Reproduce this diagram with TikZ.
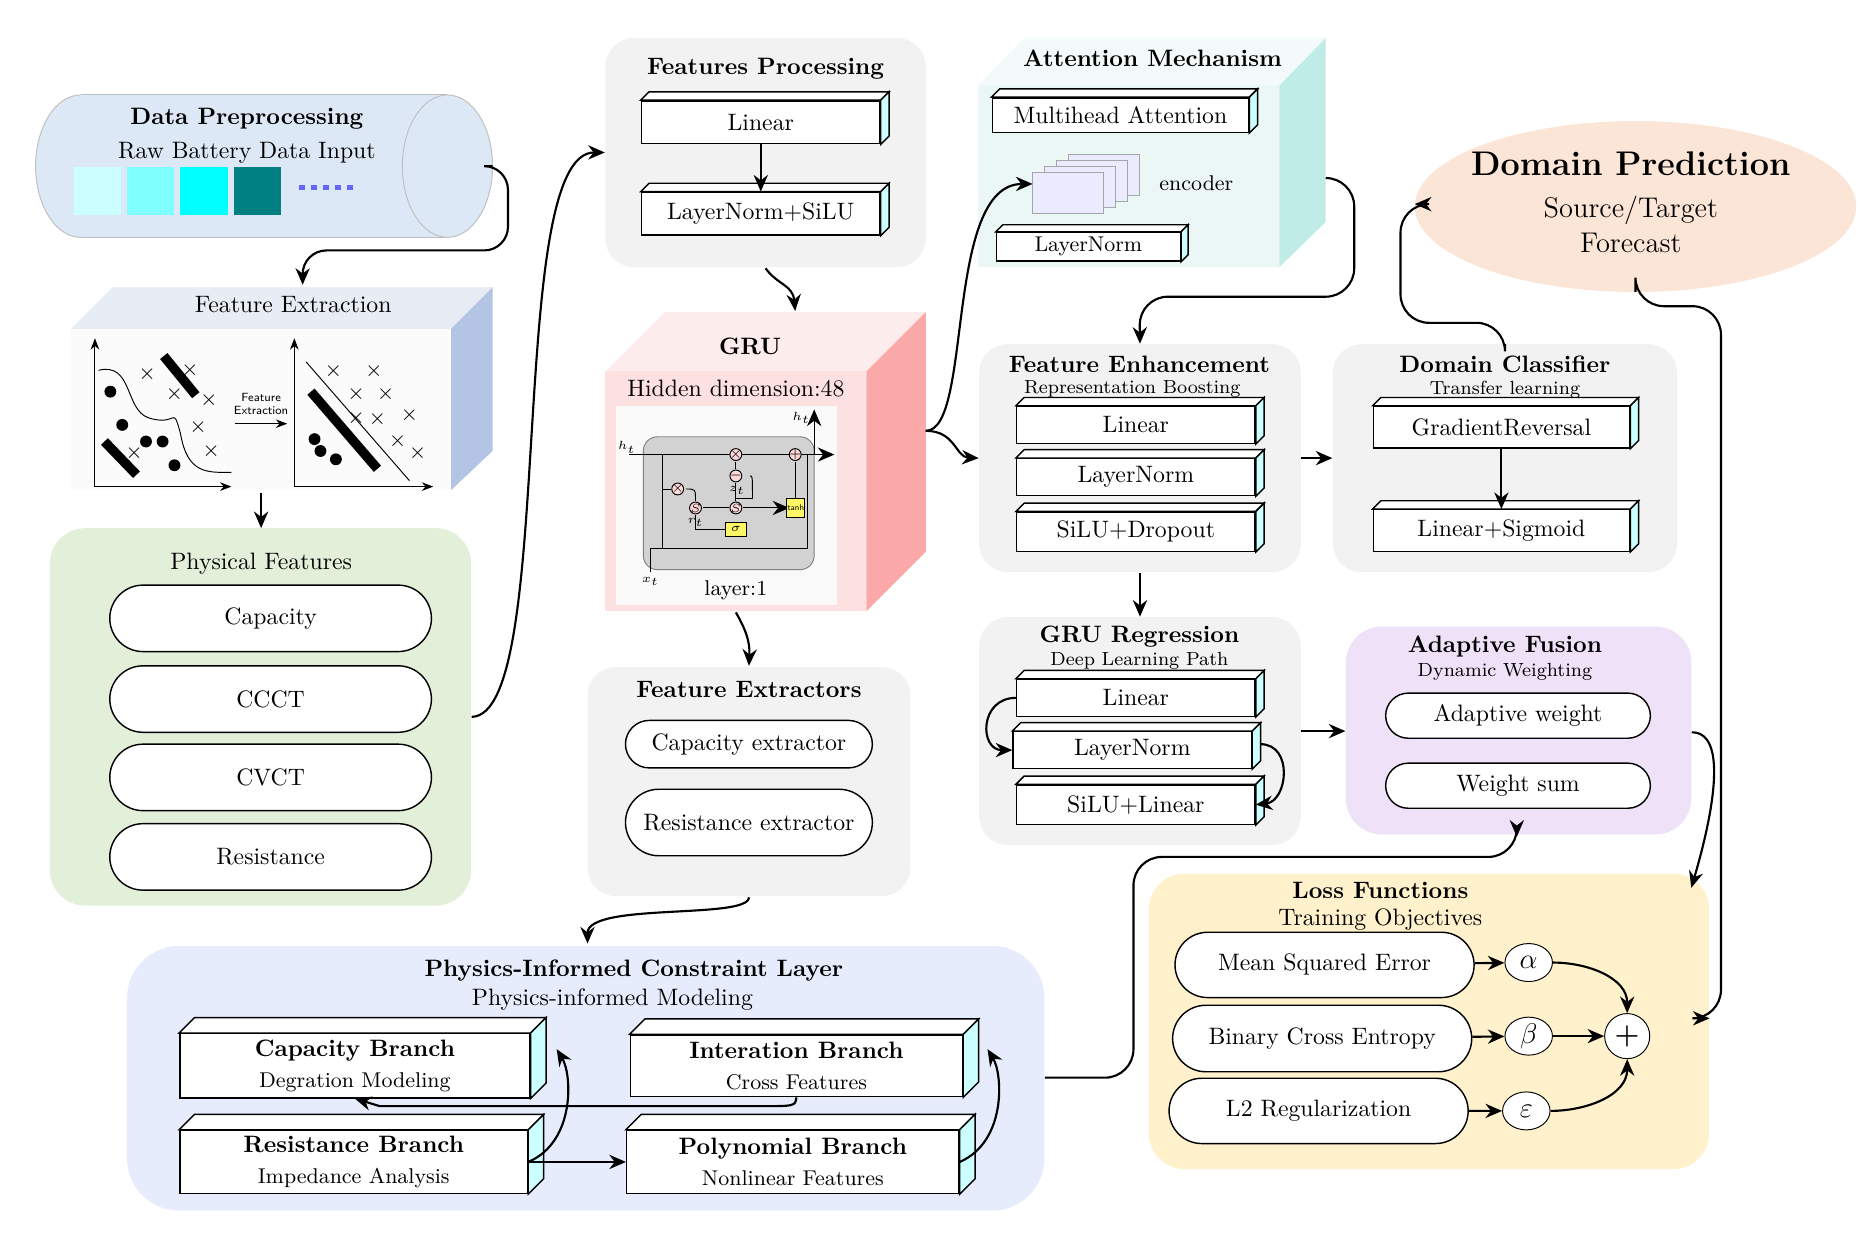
\documentclass[tikz,border=0pt]{standalone}
\usetikzlibrary{shapes.geometric,shapes.misc,fit,arrows.meta,calc}
\definecolor{cylb}{HTML}{DCE8F5}
\definecolor{sidecyan}{HTML}{CCFFFF}
\definecolor{bgray}{HTML}{F2F2F2}
\definecolor{pgreen}{HTML}{E2EFD9}
\definecolor{attn}{HTML}{EAF7F5}
\definecolor{attnside}{HTML}{C0ECE8}
\definecolor{dpred}{HTML}{FBE5D6}
\definecolor{afuse}{HTML}{EFE1F7}
\definecolor{loss}{HTML}{FFF1CC}
\definecolor{phys}{HTML}{E6ECFC}
\definecolor{grufront}{HTML}{FDE0E0}
\definecolor{grutop}{HTML}{FDECEC}
\definecolor{gruside}{HTML}{FBA8A8}
\definecolor{fetop}{HTML}{E8ECF5}
\definecolor{feside}{HTML}{B4C4E4}
\definecolor{sqa}{HTML}{CCFFFF}
\definecolor{sqb}{HTML}{80FFFF}
\definecolor{sqc}{HTML}{00FFFF}
\definecolor{sqd}{HTML}{008080}
\newcommand\tdbox[7]{%
 \node[tdf, minimum width=#4*0.5pt, minimum height=#5*0.5pt] (#1) at (#2,#3) {#7};
 \filldraw[fill=white,draw=black,line width=0.6pt] (#1.north west) -- ++(#6,-#6) -- ($(#1.north east)+(#6,-#6)$) -- (#1.north east) -- cycle;
 \filldraw[fill=sidecyan,draw=black,line width=0.6pt] (#1.north east) -- ++(#6,-#6) -- ($(#1.south east)+(#6,-#6)$) -- (#1.south east) -- cycle;}
\newcommand\cont[6]{\node[fit={(#2,#3)(#4,#5)}, inner sep=0pt, #6] (#1) {};}
\begin{document}
\begin{tikzpicture}[x=0.5pt,y=-0.5pt,
  >={Stealth[length=7pt,width=6pt]},
  conn/.style={->,line width=0.9pt},
  tdf/.style={draw,fill=white,inner sep=0pt,line width=0.6pt,align=center},
  gbox/.style={fill=bgray,rounded corners=12pt},
  pill/.style={rounded rectangle,draw,fill=white,inner sep=0pt,line width=0.6pt},
  ttl/.style={font=\bfseries},
  sub/.style={font=\footnotesize},
  tiny/.style={font=\fontsize{4}{5}\selectfont,inner sep=0pt}]
\useasboundingbox (0,0) rectangle (1568,1047);

% ---------- Data preprocessing cylinder
\fill[cylb] (68,140) ellipse [x radius=38,y radius=60];
\fill[cylb] (68,80) rectangle (377,200);
\draw[gray!50] (68,80) -- (377,80) (68,200) -- (377,200);
\draw[gray!50] (68,80) arc[start angle=-90,end angle=-270,x radius=38,y radius=60];
\filldraw[fill=cylb,draw=gray!50] (377,140) ellipse [x radius=38,y radius=60];
\coordinate (cylE) at (415,140);
\node[ttl] at (208,100) {Data Preprocessing};
\node at (208,129) {Raw Battery Data Input};
\fill[sqa] (62,141) rectangle (102,181);
\fill[sqb] (107,141) rectangle (147,181);
\fill[sqc] (152,141) rectangle (192,181);
\fill[sqd] (197,141) rectangle (237,181);
\draw[blue!60,line width=2pt,dash pattern=on 2.5pt off 2.5pt] (252,158) -- (298,158);

% ---------- Feature extraction
\fill[fetop] (60,277) -- (95,242) -- (415,242) -- (380,277) -- cycle;
\fill[feside] (380,277) -- (415,242) -- (415,380) -- (380,413) -- cycle;
\fill[white!97!gray] (60,277) rectangle (380,413);
\cont{fext}{60}{242}{415}{413}{}
\node at (247,257) {Feature Extraction};
\draw[->,>=Stealth] (80,410) -- (80,285);
\draw[->,>=Stealth] (80,410) -- (195,410);
\draw (83,312) .. controls (112,305) and (105,345) .. (125,352) .. controls (150,360) and (145,340) .. (152,365) .. controls (158,400) and (175,398) .. (195,398);
\draw[line width=4pt] (138,300) -- (165,333);
\draw[line width=4pt] (88,372) -- (115,400);
\foreach \p in {(124,315),(160,312),(147,332),(176,337),(167,360),(178,380),(113,382)} \node[font=\small,inner sep=0] at \p {$\times$};
\foreach \p in {(93,330),(103,358),(123,372),(137,372),(147,392)} \fill \p circle (5);
\draw[->,>=Stealth] (198,357) -- (242,357);
\node[inner sep=0,align=center,font=\sffamily\fontsize{5}{5.5}\selectfont] at (220,340) {Feature\\Extraction};
\draw[->,>=Stealth] (248,410) -- (248,285);
\draw[->,>=Stealth] (248,410) -- (365,410);
\draw (258,305) -- (345,405);
\draw[line width=4pt] (262,330) -- (318,395);
\foreach \p in {(281,313),(315,313),(300,332),(325,332),(318,353),(345,350),(335,372),(352,382),(300,352)} \node[font=\small,inner sep=0] at \p {$\times$};
\foreach \p in {(265,370),(283,387),(270,380)} \fill \p circle (5);

% ---------- Physical features
\cont{pf}{42}{445}{397}{763}{fill=pgreen,rounded corners=15pt}
\node at (220,475) {Physical Features};
\foreach \n/\y/\t in {cap/521/Capacity,ccct/589/CCCT,cvct/655/CVCT,res/722/Resistance}
  \node[pill,minimum width=271*0.5pt,minimum height=56*0.5pt] (\n) at (228,\y) {\t};

% ---------- Features processing
\cont{fp}{510}{32}{780}{225}{gbox}
\node[ttl] at (645,58) {Features Processing};
\tdbox{lin1}{641}{103}{201}{36}{7}{Linear}
\tdbox{lns1}{641}{180}{201}{36}{7}{LayerNorm+SiLU}
\draw[conn] (lin1) -- (lns1);

% ---------- GRU
\fill[grutop] (510,313) -- (560,263) -- (780,263) -- (730,313) -- cycle;
\fill[gruside] (730,313) -- (780,263) -- (780,465) -- (730,515) -- cycle;
\fill[grufront] (510,313) rectangle (730,515);
\cont{gru}{510}{263}{780}{515}{}
\node[ttl] at (632,292) {GRU};
\node at (620,327) {Hidden dimension:48};
\fill[white!96!gray] (519,342) rectangle (705,510);
\filldraw[fill=gray!35,draw=gray,rounded corners=6pt] (542,368) rectangle (686,480);
\draw[->] (530,383) -- (703,383);
\draw[->] (686,383) -- (686,345);
\node[font=\tiny] at (675,352) {$h_t$};
\node[font=\tiny] at (528,377) {$h_t$};
\node[font=\tiny] at (548,490) {$x_t$};
\draw (548,482) -- (548,462) -- (680,462) -- (680,383);
\draw (558,383) -- (558,462);
\draw (558,412) -- (565,412);
\draw (578,412) .. controls (586,412) .. (586,422);
\draw (586,434) -- (586,446) -- (612,446);
\draw (592,428) -- (614,428);
\draw (620,389) -- (620,395) (620,407) -- (620,422);
\draw[->] (626,428) -- (665,428);
\draw (670,422) -- (670,389);
\draw (632,401) .. controls (634,401) .. (634,420) -- (620,420);
\foreach \p/\s in {(620,383)/\times,(670,383)/+,(571,412)/\times,(620,401)/-,(586,428)/S,(620,428)/S}
  \filldraw[fill=red!15,draw=black,line width=0.4pt] \p circle (5) node[font=\fontsize{5}{5}\selectfont] {$\s$};
\node[font=\fontsize{4}{4}\selectfont] at (621,413) {$z_t$};
\node[font=\fontsize{4}{4}\selectfont] at (586,440) {$r_t$};
\filldraw[fill=yellow!60,draw=black,line width=0.4pt] (611,440) rectangle (629,452);
\node[font=\fontsize{5}{5}\selectfont] at (620,446) {$\sigma$};
\filldraw[fill=yellow!60,draw=black,line width=0.4pt] (663,420) rectangle (678,436);
\node[font=\sffamily\fontsize{3.5}{4}\selectfont] at (670.5,428) {tanh};
\node[font=\small] at (620,497) {layer:1};

% ---------- Feature extractors
\cont{fx}{495}{562}{767}{755}{gbox}
\node[ttl] at (631,581) {Feature Extractors};
\node[pill,minimum width=208*0.5pt,minimum height=40*0.5pt] (cx) at (631,627) {Capacity extractor};
\node[pill,minimum width=208*0.5pt,minimum height=56*0.5pt] (rx) at (631,693) {Resistance extractor};

% ---------- Attention
\fill[attn!60] (824,72) -- (863,32) -- (1117,32) -- (1078,72) -- cycle;
\fill[attnside] (1078,72) -- (1117,32) -- (1117,187) -- (1078,225) -- cycle;
\fill[attn] (824,72) rectangle (1078,225);
\cont{att}{824}{32}{1117}{225}{}
\node[ttl] at (971,49) {Attention Mechanism};
\tdbox{mha}{944}{97}{216}{29}{7}{Multihead Attention}
\foreach \i in {3,2,1}
  \filldraw[fill=blue!8,draw=gray!70,line width=0.4pt] (870+\i*10,145-\i*5) rectangle (930+\i*10,180-\i*5);
\filldraw[fill=blue!8,draw=gray!70,line width=0.4pt] (870,145) rectangle (930,180);
\coordinate (enc) at (870,155);
\node[font=\small] at (1008,154) {encoder};
\tdbox{ln2}{917}{208}{155}{24}{6}{\small LayerNorm}

% ---------- Domain prediction
\node[ellipse,fill=dpred,minimum width=372*0.5pt,minimum height=144*0.5pt] (dp) at (1378,174) {};
\node[font=\Large\bfseries] at (1374,138) {Domain Prediction};
\node[font=\large] at (1374,177) {Source/Target};
\node[font=\large] at (1374,205) {Forecast};

% ---------- Feature enhancement
\cont{fe}{825}{290}{1096}{482}{gbox}
\node[ttl] at (960,307) {Feature Enhancement};
\node[sub] at (954,328) {Representation Boosting};
\tdbox{fe1}{957}{358}{201}{31}{7}{Linear}
\tdbox{fe2}{957}{402}{201}{31}{7}{LayerNorm}
\tdbox{fe3}{957}{448}{201}{33}{7}{SiLU+Dropout}

% ---------- Domain classifier
\cont{dc}{1123}{290}{1413}{482}{gbox}
\node[ttl] at (1268,307) {Domain Classifier};
\node[sub] at (1268,328) {Transfer learning};
\tdbox{gr}{1265}{360}{216}{35}{7}{GradientReversal}
\tdbox{ls}{1265}{447}{216}{35}{7}{Linear+Sigmoid}
\draw[conn] (gr) -- (ls);

% ---------- GRU regression
\cont{gre}{825}{520}{1096}{712}{gbox}
\node[ttl] at (960,536) {GRU Regression};
\node[sub] at (960,557) {Deep Learning Path};
\tdbox{gr1}{957}{588}{201}{31}{7}{Linear}
\tdbox{gr2}{954}{632}{201}{31}{7}{LayerNorm}
\tdbox{gr3}{957}{678}{201}{33}{7}{SiLU+Linear}
\draw[conn] (gr1.west) .. controls (825,588) and (825,632) .. (gr2.west);
\draw[conn] (1062,627) .. controls (1090,627) and (1085,675) .. (gr3.east);

% ---------- Adaptive fusion
\cont{af}{1134}{528}{1425}{703}{fill=afuse,rounded corners=15pt}
\node[ttl] at (1268,545) {Adaptive Fusion};
\node[sub] at (1268,566) {Dynamic Weighting};
\node[pill,minimum width=223*0.5pt,minimum height=38*0.5pt] (aw) at (1279,603) {Adaptive weight};
\node[pill,minimum width=223*0.5pt,minimum height=38*0.5pt] (ws) at (1279,662) {Weight sum};

% ---------- Loss functions
\cont{lf}{968}{736}{1440}{985}{fill=loss,rounded corners=15pt}
\node[ttl] at (1163,750) {Loss Functions};
\node at (1163,775) {Training Objectives};
\node[pill,minimum width=252*0.5pt,minimum height=55*0.5pt] (mse) at (1116,813) {Mean Squared Error};
\node[pill,minimum width=252*0.5pt,minimum height=56*0.5pt] (bce) at (1114,875) {Binary Cross Entropy};
\node[pill,minimum width=252*0.5pt,minimum height=55*0.5pt] (l2) at (1111,936) {L2 Regularization};
\node[ellipse,draw,fill=white,minimum width=40*0.5pt,minimum height=32*0.5pt,inner sep=0,font=\large] (al) at (1288,811) {$\alpha$};
\node[ellipse,draw,fill=white,minimum width=40*0.5pt,minimum height=32*0.5pt,inner sep=0,font=\large] (be) at (1288,873) {$\beta$};
\node[ellipse,draw,fill=white,minimum width=40*0.5pt,minimum height=32*0.5pt,inner sep=0,font=\large] (ep) at (1286,936) {$\varepsilon$};
\node[circle,draw,fill=white,minimum size=38*0.5pt,inner sep=0,font=\large\bfseries] (pl) at (1371,873) {+};
\draw[conn] (mse) -- (al);
\draw[conn] (bce) -- (be);
\draw[conn] (l2) -- (ep);
\draw[conn] (al.east) to[out=0,in=90] (pl.north);
\draw[conn] (be) -- (pl);
\draw[conn] (ep.east) to[out=0,in=-90] (pl.south);

% ---------- Physics layer
\cont{ph}{107}{797}{880}{1020}{fill=phys,rounded corners=22pt}
\node[ttl] at (534,818) {Physics-Informed Constraint Layer};
\node at (516,842) {Physics-informed Modeling};
\tdbox{cb}{299}{898}{295}{54}{13}{\textbf{Capacity Branch}\\[1pt]\small Degration Modeling}
\tdbox{ib}{671}{898}{280}{52}{13}{\textbf{Interation Branch}\\[1pt]\small Cross Features}
\tdbox{rb}{298}{979}{293}{53}{13}{\textbf{Resistance Branch}\\[1pt]\small Impedance Analysis}
\tdbox{pb}{668}{979}{280}{53}{13}{\textbf{Polynomial Branch}\\[1pt]\small Nonlinear Features}
\draw[conn] (ib.south) .. controls (670,932) .. (640,932) -- (320,932) -- (cb.south);
\draw[conn] (rb.east) .. controls (485,962) and (482,905) .. (469,884);
\draw[conn] (rb.east) -- (pb.west);
\draw[conn] (pb.east) .. controls (848,962) and (845,905) .. (832,884);

% ---------- Connectors
\draw[conn,rounded corners=10pt] (cylE) -- (428,140) -- (428,211) -- (255,211) -- (255,240);
\draw[conn] (220,415) -- (220,445);
\draw[conn] (pf.east) .. controls (470,603) and (425,128) .. (fp.west);
\draw[conn] (645,226) .. controls (655,240) and (668,240) .. (670,262);
\draw[conn] (780,363) .. controls (820,363) and (795,155) .. (enc);
\draw[conn] (780,363) .. controls (805,363) and (805,385) .. (fe.west);
\draw[conn] (620,516) .. controls (628,530) and (632,540) .. (631,561);
\draw[conn,rounded corners=12pt] (1117,150) -- (1141,150) -- (1141,250) -- (960,250) -- (fe.north);
\draw[conn] (fe.east) -- (dc.west);
\draw[conn] (fe.south) -- (gre.north);
\draw[conn,rounded corners=12pt] (1268,290) -- (1268,272) -- (1180,272) -- (1180,172) -- (1192,172);
\draw[conn] (gre.east |- 0,616) -- (af.west |- 0,616);
\draw[conn,rounded corners=12pt] (1378,246) -- (1378,258) -- (1450,258) -- (1450,858) -- (lf.east |- 0,858);
\draw[conn] (af.east |- 0,617) .. controls (1455,617) and (1445,680) .. (1425,748);
\draw[conn] (631,756) .. controls (631,775) and (495,760) .. (495,795);
\draw[conn,rounded corners=12pt] (ph.east |- 0,908) -- (955,908) -- (955,722) -- (1278,722) -- (1278,705);
\end{tikzpicture}
\end{document}
